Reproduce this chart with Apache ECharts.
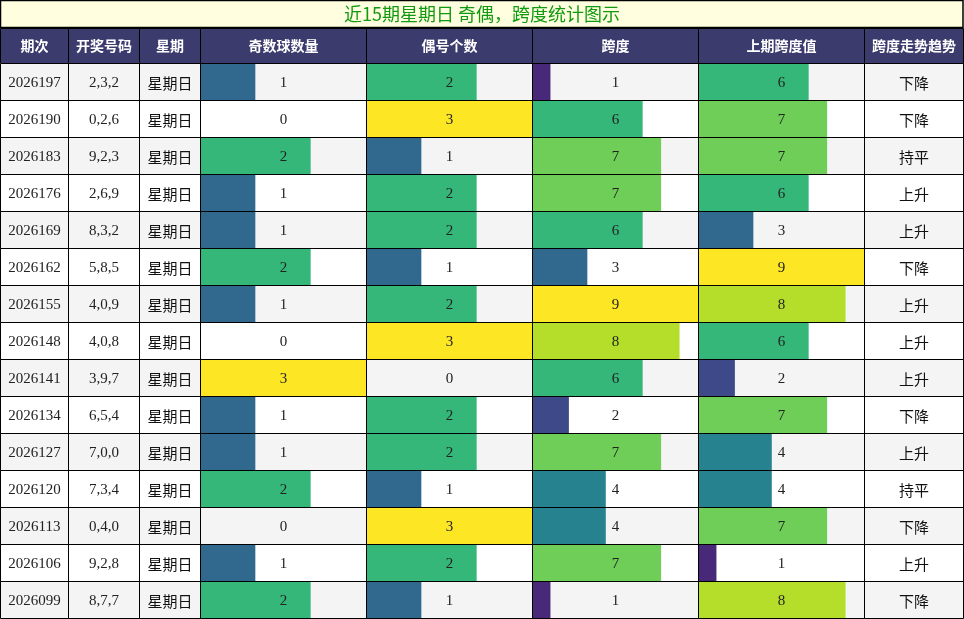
<!DOCTYPE html>
<html>
<head>
<meta charset="utf-8">
<script src="https://cdn.jsdelivr.net/npm/echarts@6/dist/echarts.min.js"></script>
<style>
  html, body { margin: 0; padding: 0; background: #fff; }
  #main { width: 964px; height: 619px; }
</style>
</head>
<body>
<div id="main"></div>
<script>
// 数据
var titleText = '近15期星期日 奇偶，跨度统计图示';
var headers = ['期次', '开奖号码', '星期', '奇数球数量', '偶号个数', '跨度', '上期跨度值', '跨度走势趋势'];
var periods = ['2026197', '2026190', '2026183', '2026176', '2026169', '2026162', '2026155', '2026148',
               '2026141', '2026134', '2026127', '2026120', '2026113', '2026106', '2026099'];
var draws = ['2,3,2', '0,2,6', '9,2,3', '2,6,9', '8,3,2', '5,8,5', '4,0,9', '4,0,8',
             '3,9,7', '6,5,4', '7,0,0', '7,3,4', '0,4,0', '9,2,8', '8,7,7'];
var weekdays = ['星期日', '星期日', '星期日', '星期日', '星期日', '星期日', '星期日', '星期日',
                '星期日', '星期日', '星期日', '星期日', '星期日', '星期日', '星期日'];
var oddCounts = [1, 0, 2, 1, 1, 2, 1, 0, 3, 1, 1, 2, 0, 1, 2];
var evenCounts = [2, 3, 1, 2, 2, 1, 2, 3, 0, 2, 2, 1, 3, 2, 1];
var spans = [1, 6, 7, 7, 6, 3, 9, 8, 6, 2, 7, 4, 4, 7, 1];
var prevSpans = [6, 7, 7, 6, 3, 9, 8, 6, 2, 7, 4, 4, 7, 1, 8];
var trends = ['下降', '下降', '持平', '上升', '上升', '下降', '上升', '上升',
              '上升', '下降', '上升', '持平', '下降', '上升', '下降'];

// 列布局（像素单位的 x 轴）
var colEdges = [0, 68, 139, 200, 366, 532, 698, 864, 963];
var columns = [
    { values: periods, type: 'num' },
    { values: draws, type: 'num' },
    { values: weekdays, type: 'cjk' },
    { values: oddCounts, type: 'bar', max: 3 },
    { values: evenCounts, type: 'bar', max: 3 },
    { values: spans, type: 'bar', max: 9 },
    { values: prevSpans, type: 'bar', max: 9 },
    { values: trends, type: 'cjk' }
];

var viridis = ['#440154', '#482878', '#3e4989', '#31688e', '#26828e',
               '#1f9e89', '#35b779', '#6ece58', '#b5de2b', '#fde725'];

var cellData = [];
var barData = [];
columns.forEach(function (col, c) {
    col.values.forEach(function (v, r) {
        cellData.push([c, r, String(v)]);
        if (col.type === 'bar') {
            barData.push([c, r, v / col.max]);
        }
    });
});
var headerData = headers.map(function (h, c) { return [c, 0, h]; });

// 单元格矩形，取整到像素
function cellRect(api, c, r) {
    var p0 = api.coord([colEdges[c], r]);
    var p1 = api.coord([colEdges[c + 1], r]);
    var h = api.size([0, 1])[1];
    var x0 = Math.round(p0[0]), x1 = Math.round(p1[0]);
    var y0 = Math.round(p0[1] - h / 2), y1 = Math.round(p0[1] + h / 2);
    return { x: x0, y: y0, width: x1 - x0, height: y1 - y0 };
}
function crisp(rect) {
    return { x: rect.x + 0.5, y: rect.y + 0.5, width: rect.width, height: rect.height };
}

var chart = echarts.init(document.getElementById('main'));
var option = {
    animation: false,
    backgroundColor: '#fff',
    graphic: [{
        type: 'rect',
        shape: { x: 0.5, y: 0.5, width: 962.5, height: 27 },
        style: { fill: '#ffffe0', stroke: '#000', lineWidth: 1.5 },
        z: -1
    }],
    title: {
        text: titleText,
        left: 'center',
        top: 0,
        textStyle: {
            color: '#119911',
            fontSize: 18,
            fontWeight: 'normal',
            fontFamily: 'Noto Sans CJK SC'
        }
    },
    grid: [
        { left: 0, right: 1, top: 28, height: 35 },
        { left: 0, right: 1, top: 63, bottom: 1 }
    ],
    xAxis: [
        { gridIndex: 0, type: 'value', min: 0, max: 963, show: false },
        { gridIndex: 1, type: 'value', min: 0, max: 963, show: false }
    ],
    yAxis: [
        { gridIndex: 0, type: 'category', data: ['header'], show: false },
        { gridIndex: 1, type: 'category', data: periods, inverse: true, show: false }
    ],
    visualMap: {
        show: false,
        type: 'continuous',
        seriesIndex: 2,
        dimension: 2,
        min: 0,
        max: 1,
        inRange: { color: viridis }
    },
    series: [
        // 表头
        {
            type: 'custom',
            xAxisIndex: 0,
            yAxisIndex: 0,
            data: headerData,
            renderItem: function (params, api) {
                var c = api.value(0);
                return {
                    type: 'rect',
                    shape: crisp(cellRect(api, c, 0)),
                    style: { fill: '#3c3b6e', stroke: '#000', lineWidth: 1 },
                    textContent: {
                        style: {
                            text: headers[c],
                            fill: '#fff',
                            fontSize: 14,
                            fontWeight: 'bold',
                            fontFamily: 'Noto Sans CJK SC'
                        }
                    },
                    textConfig: { position: 'inside' }
                };
            }
        },
        // 单元格底色
        {
            type: 'custom',
            xAxisIndex: 1,
            yAxisIndex: 1,
            data: cellData,
            renderItem: function (params, api) {
                var c = api.value(0), r = api.value(1);
                return {
                    type: 'rect',
                    shape: cellRect(api, c, r),
                    style: { fill: r % 2 === 0 ? '#f4f4f4' : '#ffffff' }
                };
            }
        },
        // 数据条
        {
            type: 'custom',
            xAxisIndex: 1,
            yAxisIndex: 1,
            data: barData,
            renderItem: function (params, api) {
                var c = api.value(0), r = api.value(1), ratio = api.value(2);
                var rect = cellRect(api, c, r);
                rect.width = rect.width * ratio;
                return {
                    type: 'rect',
                    shape: rect,
                    style: { fill: api.visual('color') }
                };
            }
        },
        // 边框与文字
        {
            type: 'custom',
            xAxisIndex: 1,
            yAxisIndex: 1,
            data: cellData,
            renderItem: function (params, api) {
                var c = api.value(0), r = api.value(1);
                var col = columns[c];
                var isCjk = col.type === 'cjk';
                return {
                    type: 'rect',
                    shape: crisp(cellRect(api, c, r)),
                    style: { fill: 'transparent', stroke: '#000', lineWidth: 1 },
                    textContent: {
                        style: {
                            text: String(col.values[r]),
                            fill: isCjk ? '#111' : '#222',
                            fontSize: 15,
                            fontFamily: isCjk ? 'Noto Sans CJK SC' : 'Liberation Serif'
                        }
                    },
                    textConfig: { position: 'inside', offset: [0, isCjk ? 1 : 1.5] }
                };
            }
        }
    ]
};
chart.setOption(option);
</script>
</body>
</html>
